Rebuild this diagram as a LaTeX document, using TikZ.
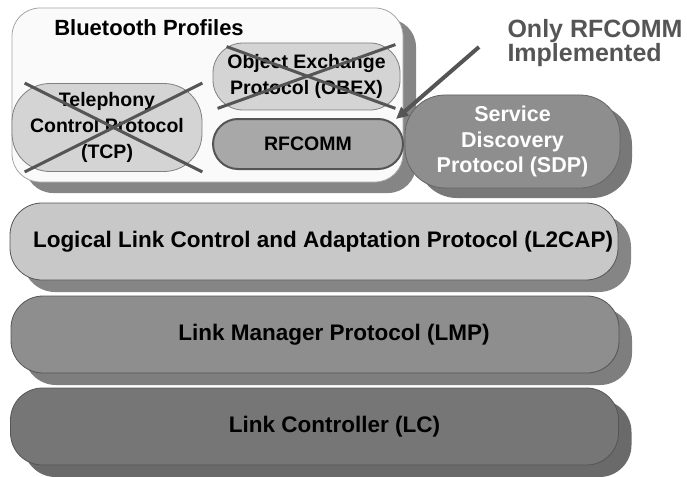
\documentclass[tikz,border=0pt]{standalone}
\usepackage{fontspec}
\setmainfont{Liberation Sans}
\usetikzlibrary{shadows,arrows.meta}
\definecolor{profbg}{HTML}{FAFAFA}
\definecolor{oldgray}{HTML}{D4D4D4}
\definecolor{rfgray}{HTML}{A8A8A8}
\definecolor{sdpgray}{HTML}{8E8E8E}
\definecolor{l2gray}{HTML}{C8C8C8}
\definecolor{lmpgray}{HTML}{8E8E8E}
\definecolor{lcgray}{HTML}{767676}
\definecolor{shade}{HTML}{858585}
\definecolor{darkline}{HTML}{555555}

\begin{document}
\begin{tikzpicture}[x=1pt,y=1pt,
  box/.style={rectangle, draw=darkline, line width=0.8pt, align=center,
    font=\bfseries\fontsize{19.5}{26}\selectfont},
  layer/.style={box, rounded corners=32pt, minimum width=608pt, minimum height=77pt,
    copy shadow={shadow xshift=13pt, shadow yshift=-12pt, fill=#1, draw=none}},
  laytext/.style={font=\bfseries\fontsize{22.5}{26}\selectfont},
  cross/.style={draw=darkline, line width=3pt},
  note/.style={align=left, text=darkline, font=\bfseries\fontsize{25}{23}\selectfont}]
  \useasboundingbox (0,0) rectangle (687,-476);

  % upper part: profiles, RFCOMM and SDP
  \node[box, draw=gray!70, fill=profbg, rounded corners=28pt, minimum width=391pt, minimum height=174pt,
    copy shadow={shadow xshift=13pt, shadow yshift=-11pt, fill=shade, draw=none}] (prof) at (207.5,-95) {};
  \node[font=\bfseries\fontsize{22}{24}\selectfont] (proftitle) at (149,-28) {Bluetooth Profiles};
  \node[box, draw=gray, fill=oldgray, rounded corners=30pt, minimum width=187pt, minimum height=67pt] (obex) at (306.5,-76.5) {Object Exchange\\Protocol (OBEX)};
  \node[box, draw=gray, fill=oldgray, rounded corners=38pt, minimum width=190pt, minimum height=88pt] (tcp) at (107,-127.5) {Telephony\\Control Protocol\\(TCP)};
  \node[box, fill=rfgray, line width=2pt, rounded corners=25pt, minimum width=190pt, minimum height=50pt] (rfcomm) at (308,-144) {RFCOMM};
  \node[box, draw=gray!80!black, fill=sdpgray, text=white, rounded corners=40pt, minimum width=215pt, minimum height=93pt,
    font=\bfseries\fontsize{21.5}{25.5}\selectfont,
    copy shadow={shadow xshift=12pt, shadow yshift=-10pt, fill=shade!90!black, draw=none}] (sdp) at (512.5,-141.5) {Service\\Discovery\\Protocol (SDP)};

  % crossed out profiles
  \draw[cross] ([xshift=13pt]tcp.north west) -- (tcp.south east);
  \draw[cross] ([xshift=13pt]tcp.south west) -- (tcp.north east);
  \draw[cross] ([xshift=14pt,yshift=-4pt]obex.north west) -- ([xshift=-5pt,yshift=2pt]obex.south east);
  \draw[cross] ([xshift=5pt,yshift=2pt]obex.south west) -- ([xshift=-5pt,yshift=-2pt]obex.north east);

  % note
  \node[note, anchor=west] (only) at (504,-43) {Only RFCOMM\\Implemented};
  \coordinate (tail) at (479,-47);
  \draw[-{Triangle[length=12pt,width=11pt]}, draw=darkline, fill=darkline, line width=4pt] (tail) -- ([xshift=-8pt,yshift=-1pt]rfcomm.north east);

  % lower layers
  \node[layer=shade, fill=l2gray, label={[laytext, xshift=9pt]center:Logical Link Control and Adaptation Protocol (L2CAP)}] (l2cap) at (314,-241.5) {};
  \node[layer=shade!95!black, fill=lmpgray, label={[laytext, xshift=19pt]center:Link Manager Protocol (LMP)}] (lmp) at (315,-334.5) {};
  \node[layer=lcgray!90!black, fill=lcgray, label={[laytext, xshift=20pt]center:Link Controller (LC)}] (lc) at (314.5,-426.5) {};
\end{tikzpicture}
\end{document}
